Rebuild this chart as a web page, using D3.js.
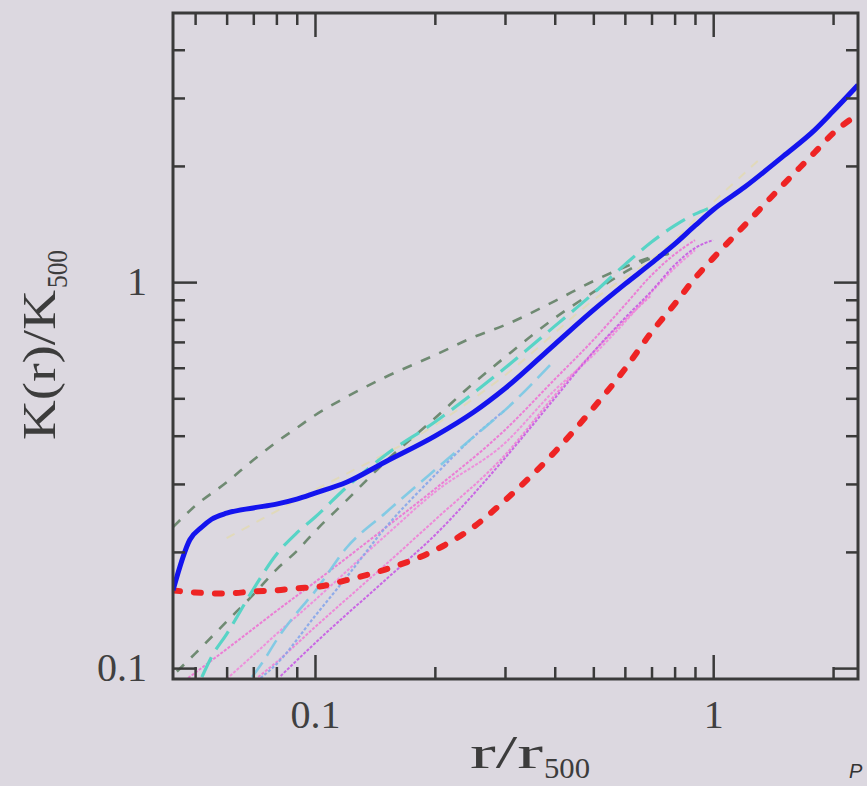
<!DOCTYPE html>
<html>
<head>
<meta charset="utf-8">
<script src="https://cdn.jsdelivr.net/npm/d3@7"></script>
<style>
  html, body { margin: 0; padding: 0; background: #dcd8e0; }
  svg { display: block; }
</style>
</head>
<body>
<svg id="chart" width="867" height="786"></svg>
<script>
// Entropy profiles K(r)/K500 against r/r500 on log-log axes.

// Axis ticks
const xMajorTicks = [0.1, 1];
const xMinorTicks = [0.05, 0.06, 0.07, 0.08, 0.09, 0.2, 0.3, 0.4, 0.5, 0.6, 0.7, 0.8, 0.9, 2];
const yMajorTicks = [0.1, 1];
const yMinorTicks = [0.2, 0.3, 0.4, 0.5, 0.6, 0.7, 0.8, 0.9, 2, 3, 4];
const xTickLabels = ["0.1", "1"];
const yTickLabels = ["0.1", "1"];

// Mean profile (solid blue)
const rBlue = [0.044, 0.0485, 0.052, 0.055, 0.06, 0.07, 0.08, 0.09, 0.1, 0.12, 0.15, 0.2, 0.25, 0.3, 0.4, 0.5, 0.6, 0.7, 0.8, 0.9, 1.0, 1.2, 1.5, 1.8, 2.0, 2.31];
const kBlue = [0.159, 0.215, 0.232, 0.243, 0.252, 0.260, 0.266, 0.274, 0.284, 0.303, 0.342, 0.399, 0.460, 0.530, 0.690, 0.846, 0.988, 1.12, 1.254, 1.40, 1.54, 1.763, 2.12, 2.48, 2.77, 3.24];

// Reference profile (thick red dashes)
const rRed = [0.044, 0.05, 0.06, 0.07, 0.08, 0.09, 0.1, 0.12, 0.15, 0.2, 0.25, 0.3, 0.4, 0.5, 0.6, 0.7, 0.8, 0.9, 1.0, 1.2, 1.5, 1.8, 2.0, 2.31];
const kRed = [0.159, 0.157, 0.156, 0.158, 0.159, 0.161, 0.162, 0.169, 0.180, 0.202, 0.232, 0.272, 0.363, 0.472, 0.595, 0.742, 0.877, 1.024, 1.154, 1.405, 1.79, 2.17, 2.43, 2.72];

// Grey-green dashed profiles
const rGreyA = [0.044, 0.05, 0.06, 0.07, 0.08, 0.09, 0.1, 0.12, 0.15, 0.2, 0.25, 0.3, 0.4, 0.5, 0.6, 0.7, 0.8];
const kGreyA = [0.232, 0.263, 0.303, 0.346, 0.385, 0.419, 0.452, 0.504, 0.567, 0.647, 0.720, 0.774, 0.893, 1.006, 1.094, 1.161, 1.19];
const rGreyB = [0.045, 0.05, 0.06, 0.07, 0.08, 0.09, 0.1, 0.12, 0.15, 0.2, 0.25, 0.3, 0.4, 0.5, 0.6, 0.7, 0.8];
const kGreyB = [0.098, 0.109, 0.132, 0.155, 0.180, 0.201, 0.226, 0.272, 0.342, 0.444, 0.547, 0.639, 0.807, 0.942, 1.061, 1.154, 1.19];

// Cyan long-dashed profiles
const rCyanA = [0.052, 0.055, 0.06, 0.07, 0.08, 0.09, 0.1, 0.12, 0.15, 0.2, 0.25, 0.3, 0.4, 0.5, 0.6, 0.7, 0.8, 0.9, 0.97];
const kCyanA = [0.0948, 0.107, 0.1225, 0.160, 0.197, 0.224, 0.246, 0.294, 0.356, 0.434, 0.516, 0.599, 0.769, 0.935, 1.11, 1.27, 1.40, 1.50, 1.55];
const rCyanB = [0.0695, 0.075, 0.08, 0.09, 0.1, 0.12, 0.15, 0.2, 0.25, 0.3, 0.4];
const kCyanB = [0.0948, 0.106, 0.118, 0.139, 0.158, 0.205, 0.252, 0.326, 0.397, 0.466, 0.628];

// Thin dotted profiles (pink, lilac, light blue, faint yellow)
const rPinkA = [0.048, 0.06, 0.08, 0.1, 0.15, 0.2, 0.3, 0.4, 0.5, 0.6, 0.7, 0.8, 0.9];
const kPinkA = [0.0942, 0.112, 0.1406, 0.167, 0.2306, 0.291, 0.414, 0.56, 0.708, 0.872, 1.042, 1.18, 1.285];
const rPinkB = [0.06, 0.07, 0.08, 0.1, 0.15, 0.2, 0.3, 0.4, 0.5, 0.6, 0.7, 0.8, 0.9];
const kPinkB = [0.0937, 0.108, 0.1225, 0.150, 0.220, 0.2857, 0.383, 0.525, 0.647, 0.788, 0.942, 1.087, 1.21];
const rPinkC = [0.072, 0.08, 0.1, 0.15, 0.2, 0.3, 0.4, 0.5, 0.6, 0.7];
const kPinkC = [0.0948, 0.1036, 0.1277, 0.185, 0.2418, 0.3565, 0.509, 0.659, 0.797, 0.925];
const rLilac = [0.082, 0.1, 0.15, 0.2, 0.3, 0.4, 0.5, 0.6, 0.7, 0.8, 0.9, 1.0];
const kLilac = [0.0954, 0.116, 0.169, 0.221, 0.35, 0.50, 0.659, 0.807, 0.948, 1.107, 1.225, 1.285];
const rSky = [0.073, 0.08, 0.1, 0.12, 0.15, 0.2, 0.25, 0.3];
const kSky = [0.0942, 0.1024, 0.1364, 0.172, 0.2306, 0.316, 0.397, 0.466];
const rYellow = [0.06, 0.1, 0.2, 0.3, 0.5, 0.8, 0.9, 1.3];
const kYellow = [0.217, 0.289, 0.426, 0.574, 0.898, 1.285, 1.45, 2.07];

const svg = d3.select("#chart");
const W = 867, H = 786;
const plotLeft = 173, plotRight = 858, plotTop = 13, plotBottom = 679;

svg.append("rect").attr("width", W).attr("height", H).attr("fill", "#dcd8e0");

const x = d3.scaleLog().domain([0.0440, 2.31]).range([plotLeft, plotRight]);
const y = d3.scaleLog().domain([0.0937, 4.98]).range([plotBottom, plotTop]);

svg.append("clipPath").attr("id", "plot-clip")
  .append("rect").attr("x", plotLeft).attr("y", plotTop)
  .attr("width", plotRight - plotLeft).attr("height", plotBottom - plotTop);

const plot = svg.append("g").attr("clip-path", "url(#plot-clip)");

const zip = (xs, ys) => xs.map((v, i) => [v, ys[i]]);
const smooth = d3.line().x(d => x(d[0])).y(d => y(d[1])).curve(d3.curveMonotoneX);

function curve(xs, ys, style) {
  const p = plot.append("path")
    .datum(zip(xs, ys))
    .attr("d", smooth)
    .attr("fill", "none")
    .attr("stroke", style.color)
    .attr("stroke-width", style.width)
    .attr("stroke-linecap", style.cap || "butt")
    .attr("stroke-linejoin", "round");
  if (style.dash) p.attr("stroke-dasharray", style.dash);
  if (style.opacity) p.attr("stroke-opacity", style.opacity);
  return p;
}

// faint and thin profiles underneath
curve(rYellow, kYellow, { color: "#e6dc8c", width: 2, dash: "9 8", opacity: 0.45 });
curve(rPinkC, kPinkC, { color: "#f080d6", width: 2, dash: "3 1.5", opacity: 0.9 });
curve(rPinkA, kPinkA, { color: "#ec78d4", width: 2, dash: "3 1.5", opacity: 0.95 });
curve(rPinkB, kPinkB, { color: "#f088da", width: 2, dash: "3 1.5", opacity: 0.9 });
curve(rSky, kSky, { color: "#86a6ea", width: 2.2, dash: "3 2", opacity: 0.9 });
curve(rLilac, kLilac, { color: "#c860e4", width: 2, dash: "3 1.5", opacity: 0.95 });
curve(rCyanB, kCyanB, { color: "#79c9e4", width: 2.6, dash: "18 8", opacity: 0.9 });
curve(rGreyA, kGreyA, { color: "#6f8a72", width: 2.6, dash: "10 10" });
curve(rGreyB, kGreyB, { color: "#6f8a72", width: 2.6, dash: "10 10" });
curve(rCyanA, kCyanA, { color: "#58d4c6", width: 3.2, dash: "22 9" });

// reference and mean profiles on top
curve(rRed, kRed, { color: "#ee2424", width: 6, dash: "7 14", cap: "round" });
curve(rBlue, kBlue, { color: "#1414ee", width: 5 });

// frame
svg.append("rect")
  .attr("x", plotLeft).attr("y", plotTop)
  .attr("width", plotRight - plotLeft).attr("height", plotBottom - plotTop)
  .attr("fill", "none").attr("stroke", "#3a3a3a").attr("stroke-width", 3);

const tickColor = "#3a3a3a";
const labelFont = "'Liberation Serif', 'DejaVu Serif', serif";

function styleAxis(g) {
  g.select(".domain").remove();
  g.selectAll(".tick line").attr("stroke", tickColor).attr("stroke-width", 2.5);
  g.selectAll(".tick text")
    .attr("fill", "#404040")
    .style("font-family", labelFont)
    .style("font-size", "40px");
}

const majorLen = 24, minorLen = 12;

// bottom
svg.append("g").attr("transform", `translate(0,${plotBottom})`)
  .call(d3.axisBottom(x).tickValues(xMajorTicks).tickSize(-majorLen).tickPadding(21)
    .tickFormat((d, i) => xTickLabels[i]))
  .call(styleAxis);
svg.append("g").attr("transform", `translate(0,${plotBottom})`)
  .call(d3.axisBottom(x).tickValues(xMinorTicks).tickSize(-minorLen).tickFormat(""))
  .call(styleAxis);
// top
svg.append("g").attr("transform", `translate(0,${plotTop})`)
  .call(d3.axisTop(x).tickValues(xMajorTicks).tickSize(-majorLen).tickFormat(""))
  .call(styleAxis);
svg.append("g").attr("transform", `translate(0,${plotTop})`)
  .call(d3.axisTop(x).tickValues(xMinorTicks).tickSize(-minorLen).tickFormat(""))
  .call(styleAxis);
// left
svg.append("g").attr("transform", `translate(${plotLeft},0)`)
  .call(d3.axisLeft(y).tickValues(yMajorTicks).tickSize(-majorLen).tickPadding(26)
    .tickFormat((d, i) => yTickLabels[i]))
  .call(styleAxis);
svg.append("g").attr("transform", `translate(${plotLeft},0)`)
  .call(d3.axisLeft(y).tickValues(yMinorTicks).tickSize(-minorLen).tickFormat(""))
  .call(styleAxis);
// right
svg.append("g").attr("transform", `translate(${plotRight},0)`)
  .call(d3.axisRight(y).tickValues(yMajorTicks).tickSize(-majorLen).tickFormat(""))
  .call(styleAxis);
svg.append("g").attr("transform", `translate(${plotRight},0)`)
  .call(d3.axisRight(y).tickValues(yMinorTicks).tickSize(-minorLen).tickFormat(""))
  .call(styleAxis);

// axis titles
const titleColor = "#3c3c3c";
svg.append("text")
  .attr("x", 470).attr("y", 768)
  .attr("textLength", 73).attr("lengthAdjust", "spacingAndGlyphs")
  .style("font-family", labelFont).style("font-size", "46px").attr("fill", titleColor)
  .text("r/r");
svg.append("text")
  .attr("x", 544).attr("y", 778)
  .attr("textLength", 46).attr("lengthAdjust", "spacingAndGlyphs")
  .style("font-family", labelFont).style("font-size", "30px").attr("fill", titleColor)
  .text("500");

const yTitle = svg.append("g").attr("transform", "translate(55,440) rotate(-90)");
yTitle.append("text")
  .attr("x", 0).attr("y", 0)
  .attr("textLength", 150).attr("lengthAdjust", "spacingAndGlyphs")
  .style("font-family", labelFont).style("font-size", "46px").attr("fill", titleColor)
  .text("K(r)/K");
yTitle.append("text")
  .attr("x", 152).attr("y", 12)
  .attr("textLength", 38).attr("lengthAdjust", "spacingAndGlyphs")
  .style("font-family", labelFont).style("font-size", "30px").attr("fill", titleColor)
  .text("500");

// page footer letter at the lower right
svg.append("text")
  .attr("x", 849).attr("y", 778)
  .style("font-family", "'Liberation Sans', Arial, sans-serif")
  .style("font-style", "italic").style("font-size", "20px").attr("fill", "#333")
  .text("P");
</script>
</body>
</html>
